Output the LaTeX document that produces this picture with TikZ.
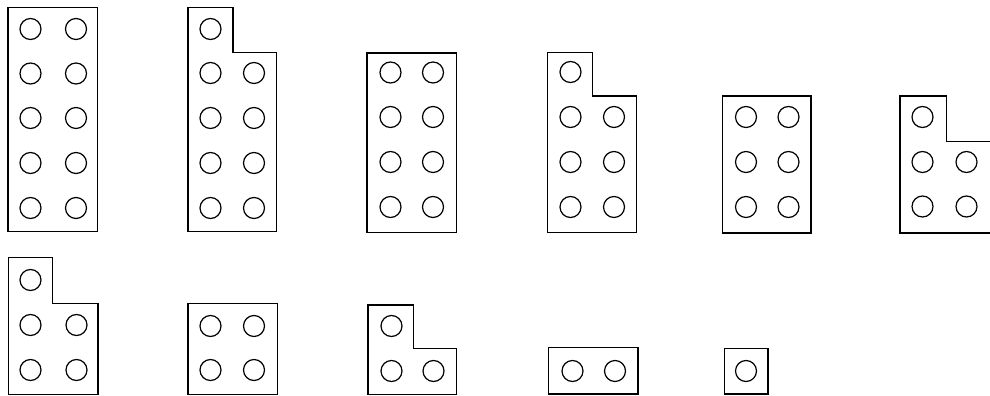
\documentclass[tikz,border=0pt]{standalone}
\begin{document}
\begin{tikzpicture}[x=1pt,y=-1pt,
  plate/.style={draw=black,line width=1.3pt,line join=miter},
  hole/.style={draw=black,line width=1.2pt}]
\useasboundingbox (0,0) rectangle (990,396);
% --- row 1 ---
% shape 1: 2x5 rectangle
\draw[plate] (8,7.5) rectangle (97.5,231.5);
\foreach \x in {30.5,76} \foreach \y in {29,73.5,118,163,208} \draw[hole] (\x,\y) circle (10.5);
% shape 2: L with 9 studs
\draw[plate] (188,7.5) -- (233,7.5) -- (233,52.5) -- (276.5,52.5) -- (276.5,231.5) -- (188,231.5) -- cycle;
\draw[hole] (210.5,29) circle (10.5);
\foreach \x in {210.5,254} \foreach \y in {73,118,163,208} \draw[hole] (\x,\y) circle (10.5);
% shape 3: 2x4 rectangle
\draw[plate] (367,53) rectangle (456.5,232.5);
\foreach \x in {390.5,433} \foreach \y in {72.5,117,162,207} \draw[hole] (\x,\y) circle (10.5);
% shape 4: L with 7 studs
\draw[plate] (547.5,52.5) -- (592.5,52.5) -- (592.5,96) -- (636.5,96) -- (636.5,232.5) -- (547.5,232.5) -- cycle;
\draw[hole] (570.5,72) circle (10.5);
\foreach \x in {570.5,614} \foreach \y in {117,162,207} \draw[hole] (\x,\y) circle (10.5);
% shape 5: 2x3 rectangle
\draw[plate] (722.5,96) rectangle (811,233);
\foreach \x in {746,788.5} \foreach \y in {117,162,207} \draw[hole] (\x,\y) circle (10.5);
% shape 6: L with 5 studs (cut off at right edge)
\draw[plate] (992,233) -- (900,233) -- (900,96) -- (946.5,96) -- (946.5,141.5) -- (992,141.5);
\draw[hole] (922.5,117) circle (10.5);
\foreach \x in {922.5,966.5} \foreach \y in {162,206.5} \draw[hole] (\x,\y) circle (10.5);
% --- row 2 ---
% shape 7: L with 5 studs
\draw[plate] (8.5,257.5) -- (52.5,257.5) -- (52.5,303.5) -- (98,303.5) -- (98,394.5) -- (8.5,394.5) -- cycle;
\draw[hole] (30.5,280) circle (10.5);
\foreach \x in {30.5,76.5} \foreach \y in {325,370} \draw[hole] (\x,\y) circle (10.5);
% shape 8: 2x2 square
\draw[plate] (188,303.5) rectangle (277.5,394.5);
\foreach \x in {210.5,254} \foreach \y in {326,370} \draw[hole] (\x,\y) circle (10.5);
% shape 9: L with 3 studs
\draw[plate] (368,305) -- (413.5,305) -- (413.5,348.5) -- (456.5,348.5) -- (456.5,394.5) -- (368,394.5) -- cycle;
\draw[hole] (391.5,326) circle (10.5);
\foreach \x in {391.5,433.5} \draw[hole] (\x,371) circle (10.5);
% shape 10: 2x1
\draw[plate] (548.5,347.5) rectangle (638,394);
\foreach \x in {572.5,615} \draw[hole] (\x,371) circle (10.5);
% shape 11: 1x1
\draw[plate] (724.5,348.5) rectangle (768,394);
\draw[hole] (746,371) circle (10.5);
\end{tikzpicture}
\end{document}
